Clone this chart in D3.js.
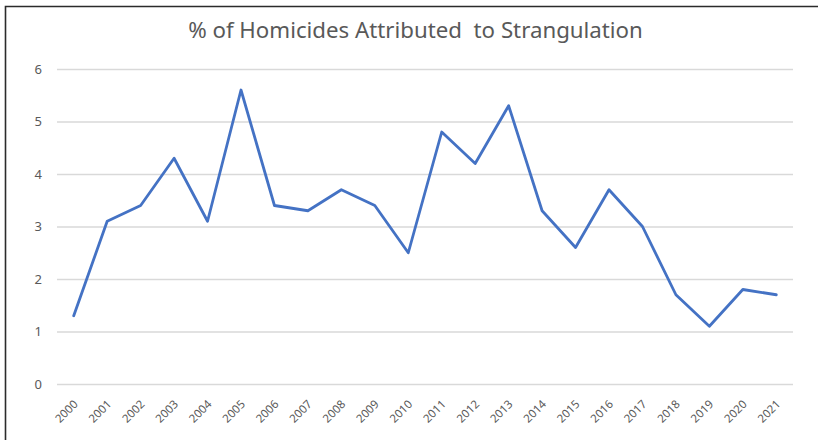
<!DOCTYPE html>
<html>
<head>
<meta charset="utf-8">
<script src="https://cdn.jsdelivr.net/npm/d3@7/dist/d3.min.js"></script>
<style>
  html, body { margin: 0; padding: 0; background: #fff; }
  svg { display: block; }
</style>
</head>
<body>
<svg id="chart" width="818" height="440"></svg>
<script>
const years = ["2000","2001","2002","2003","2004","2005","2006","2007","2008","2009","2010",
               "2011","2012","2013","2014","2015","2016","2017","2018","2019","2020","2021"];
const values = [1.3, 3.1, 3.4, 4.3, 3.1, 5.6, 3.4, 3.3, 3.7, 3.4, 2.5,
                4.8, 4.2, 5.3, 3.3, 2.6, 3.7, 3.0, 1.7, 1.1, 1.8, 1.7];
const yTicks = [0, 1, 2, 3, 4, 5, 6];
const titleText = "% of Homicides Attributed\u00A0 to Strangulation";

(function () {
const svg = d3.select("#chart");
const W = 818, H = 440;
const plotLeft = 57, plotRight = 793, plotTop = 69, plotBottom = 384;
const font = "'Noto Sans', 'Open Sans', sans-serif";

// frame
svg.append("path")
  .attr("d", `M5.5,${H} L5.5,6.5 L${W},6.5`)
  .attr("fill", "none")
  .attr("stroke", "#2b2b2b")
  .attr("stroke-width", 1.6);

const x = d3.scaleBand().domain(years).range([plotLeft, plotRight]).paddingInner(0).paddingOuter(0);
const y = d3.scaleLinear().domain([0, 6]).range([plotBottom, plotTop]);

// gridlines
const yAxis = d3.axisLeft(y).tickValues(yTicks).tickSize(-(plotRight - plotLeft)).tickPadding(15).tickFormat(d3.format("d"));
const gY = svg.append("g").attr("transform", `translate(${plotLeft},0)`).call(yAxis);
gY.select(".domain").remove();
gY.selectAll(".tick line").attr("stroke", "#d9d9d9").attr("stroke-width", 1.4);
gY.selectAll(".tick text")
  .attr("fill", "#595959")
  .attr("font-family", font)
  .attr("font-size", 13);

// x axis labels
const xAxis = d3.axisBottom(x).tickSize(0).tickPadding(0);
const gX = svg.append("g").attr("transform", `translate(0,${plotBottom})`).call(xAxis);
gX.select(".domain").remove();
gX.selectAll(".tick text")
  .attr("fill", "#595959")
  .attr("font-family", font)
  .attr("font-size", 11.5)
  .attr("text-anchor", "end")
  .attr("dy", "0.35em")
  .attr("y", 0)
  .attr("transform", "translate(2,18) rotate(-45)");

// line
const line = d3.line()
  .x((d, i) => x(years[i]) + x.bandwidth() / 2)
  .y(d => y(d));
svg.append("path")
  .datum(values)
  .attr("d", line)
  .attr("fill", "none")
  .attr("stroke", "#4472C4")
  .attr("stroke-width", 2.8)
  .attr("stroke-linejoin", "round")
  .attr("stroke-linecap", "round");

// title
const t = svg.append("text")
  .attr("x", 415.5)
  .attr("y", 38)
  .attr("text-anchor", "middle")
  .attr("fill", "#595959")
  .attr("font-family", font)
  .attr("font-size", 22)
  .text(titleText);
const w = t.node().getComputedTextLength();
if (w > 0) t.attr("font-size", 22 * 455 / w);
})();
</script>
</body>
</html>
